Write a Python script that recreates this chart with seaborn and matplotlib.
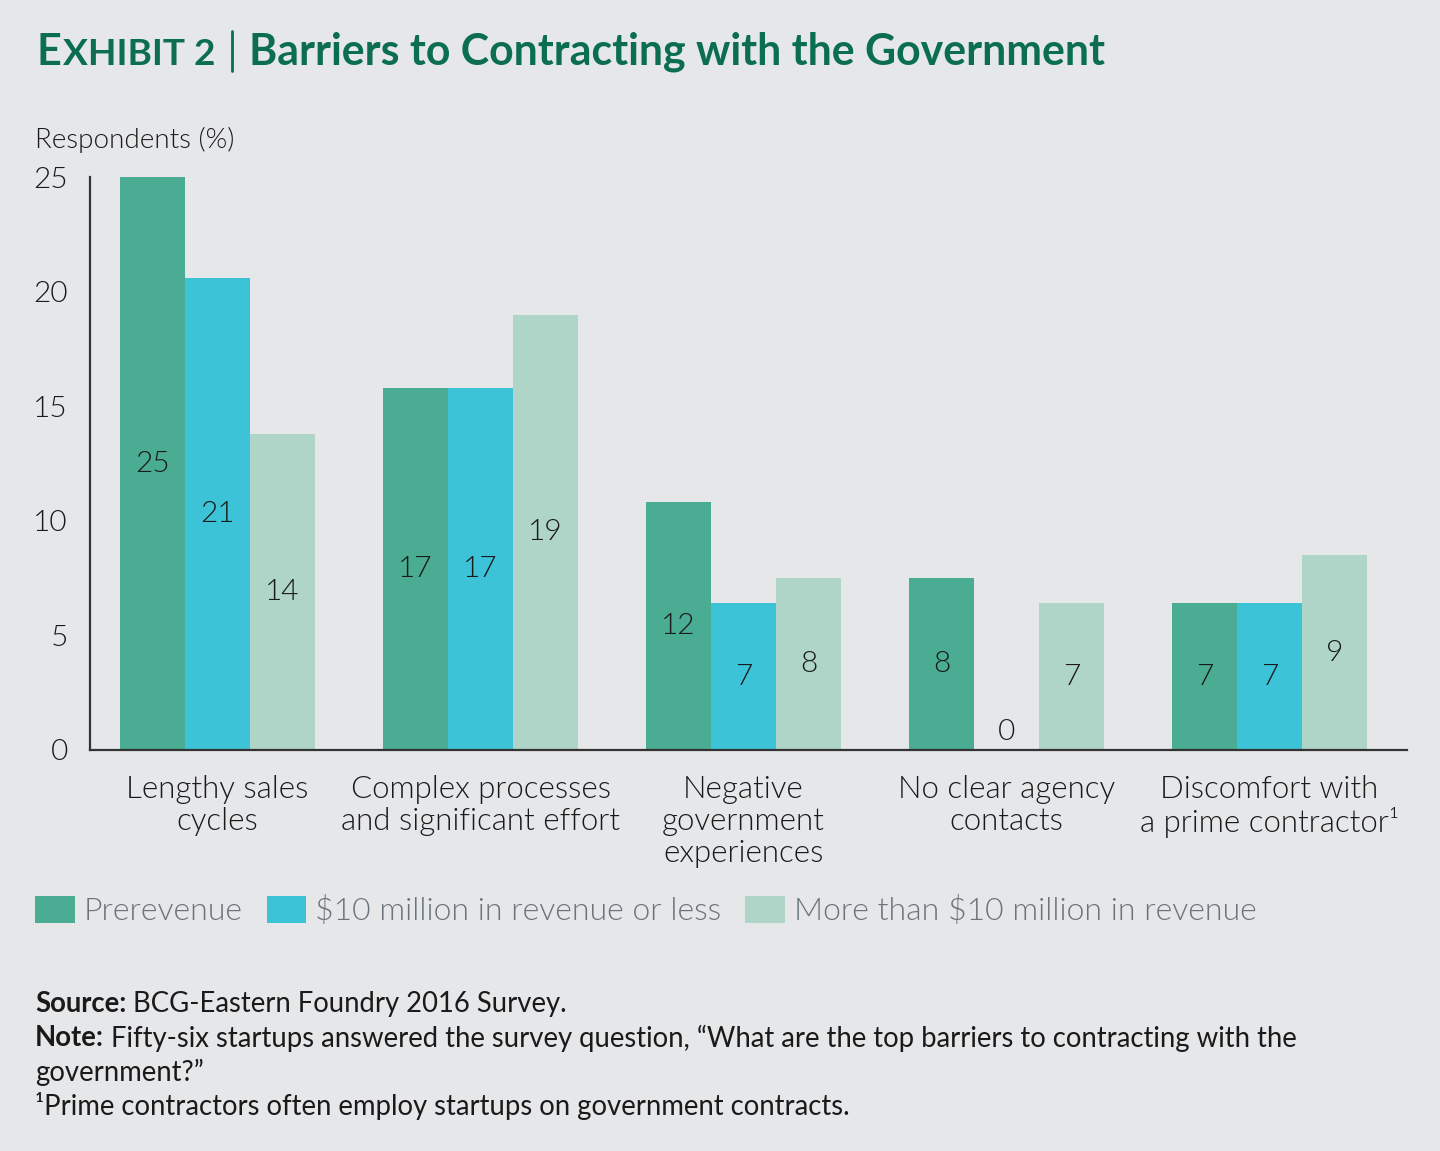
import matplotlib
matplotlib.use("Agg")
import matplotlib.pyplot as plt
import seaborn as sns
import pandas as pd
from matplotlib.patches import Patch
from matplotlib.lines import Line2D

# ---------------- data ----------------
categories = ["Lengthy sales\ncycles",
              "Complex processes\nand significant effort",
              "Negative\ngovernment\nexperiences",
              "No clear agency\ncontacts",
              "Discomfort with\na prime contractor¹"]
series = ["Prerevenue", "$10 million in revenue or less", "More than $10 million in revenue"]
prerevenue = [25.0, 15.8, 10.8, 7.5, 6.4]
small_revenue = [20.6, 15.8, 6.4, 0.0, 6.4]
large_revenue = [13.8, 19.0, 7.5, 6.4, 8.5]
prerevenue_labels = ["25", "17", "12", "8", "7"]
small_revenue_labels = ["21", "17", "7", "0", "7"]
large_revenue_labels = ["14", "19", "8", "7", "9"]
y_ticks = [0, 5, 10, 15, 20, 25]

colors = ["#4aad93", "#3dc3d8", "#afd4c8"]
BG = "#e6e7e9"
GREEN = "#0b6e4f"
TXT = "#1a1a1a"
FONT = ["Lato", "DejaVu Sans"]
LIGHT = 300

rows = []
for s, vals, labs in zip(series, [prerevenue, small_revenue, large_revenue],
                         [prerevenue_labels, small_revenue_labels, large_revenue_labels]):
    for c, v, l in zip(categories, vals, labs):
        rows.append({"category": c, "series": s, "value": v, "label": l})
df = pd.DataFrame(rows)

sns.set_theme(style="white")
plt.rcParams["font.family"] = FONT
plt.rcParams["text.color"] = TXT

W, H = 1440, 1151
fig = plt.figure(figsize=(W / 100, H / 100), dpi=100, facecolor=BG)
def fx(px): return px / W
def fy(py): return 1 - py / H

ax = fig.add_axes([fx(90), fy(750), fx(1407) - fx(90), fy(177) - fy(750)])
ax.set_facecolor(BG)
sns.barplot(data=df, x="category", y="value", hue="series", order=categories,
            hue_order=series, palette=colors, width=0.741, saturation=1,
            legend=False, ax=ax, linewidth=0)

ax.set_ylim(0, 25)
ax.set_xlim(-0.485, 4.523)
ax.set_yticks(y_ticks)
ax.set_yticklabels([str(t) for t in y_ticks], fontsize=21.5, color=TXT, fontweight=LIGHT)
ax.tick_params(axis="y", length=0, pad=16)
ax.tick_params(axis="x", length=0, pad=18)
for lab in ax.get_xticklabels():
    lab.set_multialignment("center")
    lab.set_linespacing(1.14)
    lab.set_fontsize(22.5)
    lab.set_fontweight(LIGHT)
    lab.set_color(TXT)
ax.set_xlabel("")
ax.set_ylabel("")
for side in ["top", "right"]:
    ax.spines[side].set_visible(False)
for side in ["left", "bottom"]:
    ax.spines[side].set_color("#333333")
    ax.spines[side].set_linewidth(1.6)

# value labels in bar middles
label_lists = [prerevenue_labels, small_revenue_labels, large_revenue_labels]
for cont, labs in zip(ax.containers, label_lists):
    for bar, lab in zip(cont, labs):
        h = bar.get_height()
        yv = h / 2 if h > 0 else 0.8
        ax.text(bar.get_x() + bar.get_width() / 2, yv, lab, ha="center", va="center",
                fontsize=21.5, color=TXT, fontweight=LIGHT)

fig.text(fx(35), fy(140), "Respondents (%)", fontsize=20, ha="left", va="center",
         color=TXT, fontweight=LIGHT)

# ---------------- title ----------------
renderer = fig.canvas.get_renderer()
x = fx(36)
base = fy(65)
for txt, size in [("E", 31), ("XHIBIT 2", 26.7)]:
    t = fig.text(x, base, txt, fontsize=size, fontweight="bold", color=GREEN,
                 ha="left", va="baseline")
    bb = t.get_window_extent(renderer)
    x = bb.x1 / W + fx(2)
fig.add_artist(Line2D([fx(232), fx(232)], [fy(31), fy(71)], color=GREEN, linewidth=2,
                      transform=fig.transFigure))
fig.text(fx(249), base, "Barriers to Contracting with the Government", fontsize=30.9,
         fontweight="bold", color=GREEN, ha="left", va="baseline")

# ---------------- legend ----------------
handles = [Patch(facecolor=c, edgecolor="none", label=s.replace("$", r"\$"))
           for c, s in zip(colors, series)]
leg = fig.legend(handles=handles, loc="center left", bbox_to_anchor=(fx(35), fy(911)),
                 ncol=3, frameon=False, fontsize=23, handlelength=1.25, handleheight=0.94,
                 handletextpad=0.27, columnspacing=0.75, borderaxespad=0, borderpad=0,
                 labelcolor="#6b747c")
for t in leg.get_texts():
    t.set_fontweight(LIGHT)

# ---------------- footer ----------------
def rich_line(y, parts, size=19.8):
    xx = fx(35)
    for txt, bold in parts:
        t = fig.text(xx, y, txt, fontsize=size, fontweight="bold" if bold else "normal",
                     color=TXT, ha="left", va="center")
        bb = t.get_window_extent(renderer)
        xx = bb.x1 / W

rich_line(fy(1004), [("Source:", True), (" BCG-Eastern Foundry 2016 Survey.", False)])
rich_line(fy(1038), [("Note:", True), (" Fifty-six startups answered the survey question, \u201cWhat are the top barriers to contracting with the", False)])
rich_line(fy(1072), [("government?\u201d", False)])
rich_line(fy(1106), [("¹Prime contractors often employ startups on government contracts.", False)])

fig.savefig("out.png", dpi=100, facecolor=BG)
